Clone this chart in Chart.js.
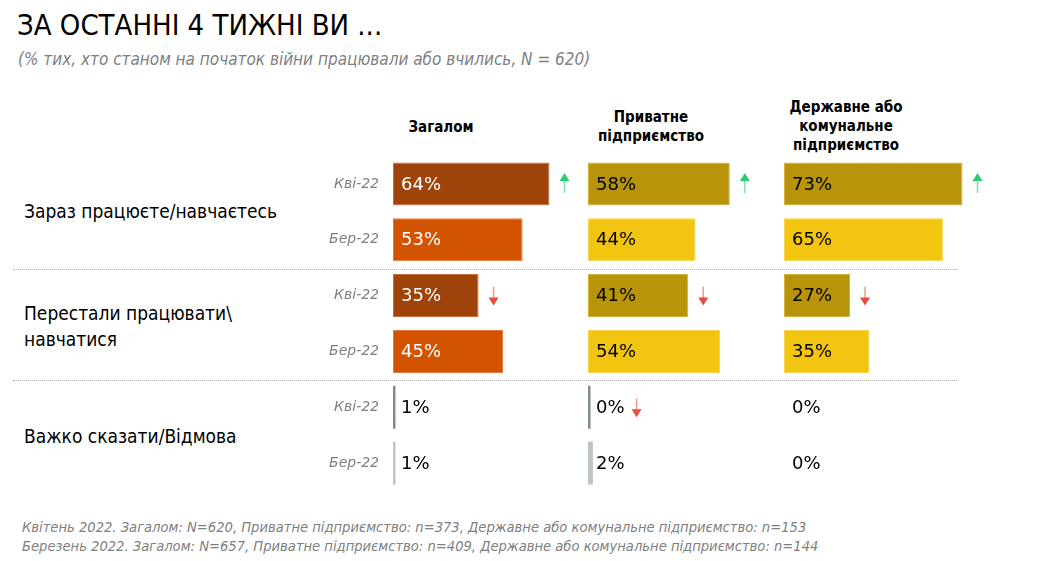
<!DOCTYPE html>
<html>
<head>
<meta charset="utf-8">
<script src="https://cdn.jsdelivr.net/npm/chart.js@4"></script>
<style>
  body { margin: 0; width: 1038px; height: 561px; background: #fff; position: relative; overflow: hidden; font-family: "DejaVu Sans", sans-serif; }
  .abs { position: absolute; white-space: nowrap; line-height: 1; }
  canvas { position: absolute; top: 156px; }
  #title { left: 17px; top: 11px; font-size: 29px; font-family: "DejaVu Sans Condensed", "DejaVu Sans"; color: #000; }
  #subtitle { left: 18px; top: 51px; font-size: 17px; font-style: italic; color: #808080; font-family: "DejaVu Sans Condensed", "DejaVu Sans"; }
  .head { font-weight: bold; font-size: 15px; text-align: center; line-height: 19px; font-family: "DejaVu Sans Condensed", "DejaVu Sans"; }
  .group { left: 24px; font-size: 19px; line-height: 26px; font-family: "DejaVu Sans Condensed", "DejaVu Sans"; }
  .sep { position: absolute; left: 13px; width: 944px; border-top: 1px dotted #b0b0b0; }
  #foot { left: 22px; top: 517px; font-size: 14.6px; font-style: italic; color: #808080; line-height: 19px; font-family: "DejaVu Sans Condensed", "DejaVu Sans"; }
</style>
</head>
<body>
<div class="abs" id="title">ЗА ОСТАННІ 4 ТИЖНІ ВИ ...</div>
<div class="abs" id="subtitle">(% тих, хто станом на початок війни працювали або вчились, N = 620)</div>
<div id="heads"></div>
<div id="groups"></div>
<div class="sep" style="top:269px"></div>
<div class="sep" style="top:380px"></div>
<canvas id="chartTotal" width="588" height="335" style="left:0"></canvas>
<canvas id="chartPrivate" width="196" height="335" style="left:588px"></canvas>
<canvas id="chartState" width="216" height="335" style="left:784px"></canvas>
<div class="abs" id="foot">Квітень 2022. Загалом: N=620, Приватне підприємство: n=373, Державне або комунальне підприємство: n=153<br>Березень 2022. Загалом: N=657, Приватне підприємство: n=409, Державне або комунальне підприємство: n=144</div>
<script>
"use strict";

// row labels (periods repeat for each answer group)
const periods = ["Кві-22", "Бер-22", "Кві-22", "Бер-22", "Кві-22", "Бер-22"];
const groups = ["Зараз працюєте/навчаєтесь", "Перестали працювати\\<br>навчатися", "Важко сказати/Відмова"];
const columns = ["Загалом", "Приватне<br>підприємство", "Державне або<br>комунальне<br>підприємство"];

// values in %
const totalValues = [64, 53, 35, 45, 1, 1];
const privateValues = [58, 44, 41, 54, 0, 2];
const stateValues = [73, 65, 27, 35, 0, 0];

// significant change arrows
const totalTrends = ["up", null, "down", null, null, null];
const privateTrends = ["up", null, "down", null, "down", null];
const stateTrends = ["up", null, "down", null, null, null];

const pxPerPct = 2.445;

// headers and group labels
const headPos = [[441, 118], [651, 108], [846, 98]];
document.getElementById("heads").innerHTML = columns.map((c, i) =>
  `<div class="abs head" style="left:${headPos[i][0] - 90}px;width:180px;top:${headPos[i][1]}px">${c}</div>`
).join("");
const groupTops = [198, 300, 423];
document.getElementById("groups").innerHTML = groups.map((g, i) =>
  `<div class="abs group" style="top:${groupTops[i]}px">${g}</div>`
).join("");

function drawArrow(ctx, x, y, dir) {
  const up = dir === "up";
  const s = up ? -1 : 1;
  const tip = up ? y - 11 : y + 10;
  const tail = up ? y + 9 : y - 9;
  ctx.strokeStyle = up ? "#7fe0a6" : "#f4968b";
  ctx.fillStyle = up ? "#2ecc71" : "#e74c3c";
  ctx.lineWidth = 1.5;
  ctx.beginPath();
  ctx.moveTo(x, tail);
  ctx.lineTo(x, tip - s * 6);
  ctx.stroke();
  ctx.beginPath();
  ctx.moveTo(x, tip);
  ctx.lineTo(x - 5, tip - s * 8);
  ctx.lineTo(x + 5, tip - s * 8);
  ctx.closePath();
  ctx.fill();
}

// value labels inside bars + arrows
const labelPlugin = {
  id: "barLabels",
  afterDatasetsDraw(chart, args, opts) {
    const ctx = chart.ctx;
    const meta = chart.getDatasetMeta(0);
    const values = chart.data.datasets[0].data;
    const x0 = chart.scales.x.getPixelForValue(0);
    ctx.save();
    ctx.font = '18px "DejaVu Sans"';
    ctx.textBaseline = "middle";
    meta.data.forEach((bar, i) => {
      const txt = values[i] + "%";
      ctx.fillStyle = opts.colors[i];
      ctx.fillText(txt, x0 + 8, bar.y + 1);
      if (opts.trends[i]) {
        const labelEnd = x0 + 8 + ctx.measureText(txt).width;
        const ax = Math.max(bar.x + 15, labelEnd + 12);
        drawArrow(ctx, ax, bar.y, opts.trends[i]);
      }
    });
    ctx.restore();
  }
};

function makePanel(id, values, colors, borders, textColors, trends, showAxis, minLen) {
  const canvas = document.getElementById(id);
  const areaWidth = showAxis ? canvas.width - 393 : canvas.width;
  return new Chart(canvas, {
    type: "bar",
    data: {
      labels: periods,
      datasets: [{
        data: values,
        backgroundColor: colors,
        borderColor: borders,
        borderWidth: [1, 1, 1, 1, 0, 0],
        borderSkipped: false,
        barPercentage: 0.77,
        categoryPercentage: 1,
        minBarLength: minLen
      }]
    },
    options: {
      indexAxis: "y",
      responsive: false,
      animation: false,
      layout: { padding: 0 },
      plugins: {
        legend: { display: false },
        tooltip: { enabled: false },
        barLabels: { colors: textColors, trends: trends }
      },
      scales: {
        x: { display: false, min: 0, max: areaWidth / pxPerPct },
        y: {
          display: showAxis,
          grid: { display: false, drawTicks: false },
          border: { display: false },
          ticks: {
            padding: 14,
            color: "#7f7f7f",
            font: { family: "DejaVu Sans", style: "italic", size: 14 }
          },
          afterFit: (scale) => {
            if (!showAxis) return;
            scale.width = 393;
            scale.paddingTop = 0;
            scale.paddingBottom = 0;
          }
        }
      }
    },
    plugins: [labelPlugin]
  });
}

const greyDark = "#7f8c8d";
const greyLight = "#bdc3c7";

makePanel("chartTotal", totalValues,
  ["#9e440b", "#d35400", "#9e440b", "#d35400", greyDark, greyLight],
  ["#c86f40", "#e57a3c", "#c86f40", "#e57a3c", greyDark, greyLight],
  ["#fff", "#fff", "#fff", "#fff", "#000", "#000"],
  totalTrends, true, 0);

makePanel("chartPrivate", privateValues,
  ["#b7940a", "#f2c511", "#b7940a", "#f2c511", greyDark, greyLight],
  ["#d2b43c", "#f6d54c", "#d2b43c", "#f6d54c", greyDark, greyLight],
  ["#000", "#000", "#000", "#000", "#000", "#000"],
  privateTrends, false, 2.5);

makePanel("chartState", stateValues,
  ["#b7940a", "#f2c511", "#b7940a", "#f2c511", greyDark, greyLight],
  ["#d2b43c", "#f6d54c", "#d2b43c", "#f6d54c", greyDark, greyLight],
  ["#000", "#000", "#000", "#000", "#000", "#000"],
  stateTrends, false, 0);
</script>
</body>
</html>
